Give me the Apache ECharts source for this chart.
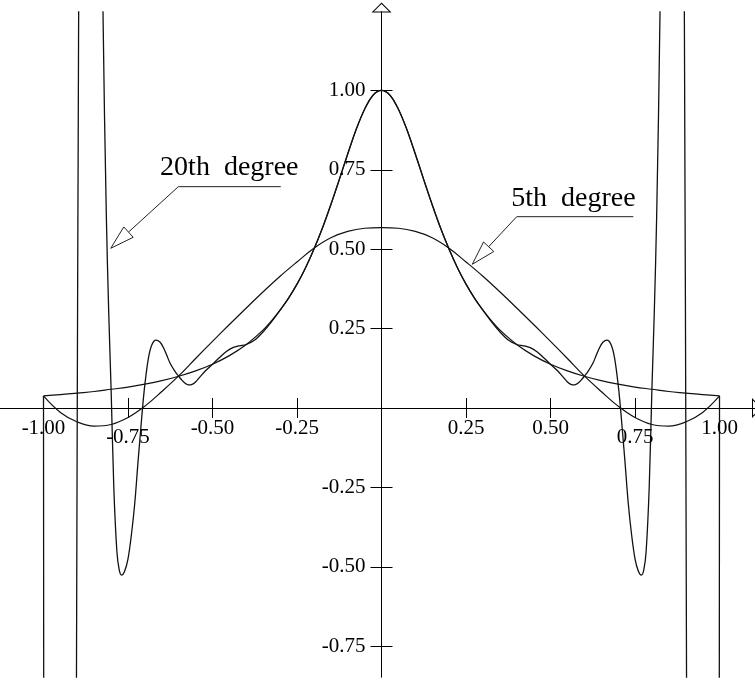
<!DOCTYPE html>
<html><head><meta charset="utf-8">
<script src="https://cdn.jsdelivr.net/npm/echarts@6/dist/echarts.min.js"></script>
<style>html,body{margin:0;padding:0;background:#fff}#c{width:755px;height:682px}</style>
</head><body><div id="c"></div>
<script>
// ---- tick values / labels ----
const xTickValues = [-1, -0.75, -0.5, -0.25, 0.25, 0.5, 0.75, 1];
const xLabelValues = [-1, -0.5, -0.25, 0.25, 0.5, 1];
const xLabelValuesLow = [-0.75, 0.75];
const yTickValues = [-0.75, -0.5, -0.25, 0.25, 0.5, 0.75, 1];

// ---- curves: [x, y] ----
const rungeFunction = [
  [-1,0.038],[-0.95,0.042],[-0.9,0.047],[-0.85,0.052],[-0.8,0.059],[-0.75,0.066],[-0.7,0.075],
  [-0.65,0.086],[-0.6,0.1],[-0.55,0.117],[-0.5,0.138],[-0.45,0.165],[-0.4,0.2],[-0.35,0.246],
  [-0.325,0.275],[-0.3,0.308],[-0.275,0.346],[-0.25,0.39],[-0.225,0.441],[-0.2,0.5],[-0.175,0.566],
  [-0.15,0.64],[-0.125,0.719],[-0.1,0.8],[-0.075,0.877],[-0.05,0.941],[-0.025,0.985],[0,1],
  [0.025,0.985],[0.05,0.941],[0.075,0.877],[0.1,0.8],[0.125,0.719],[0.15,0.64],[0.175,0.566],
  [0.2,0.5],[0.225,0.441],[0.25,0.39],[0.275,0.346],[0.3,0.308],[0.325,0.275],[0.35,0.246],
  [0.4,0.2],[0.45,0.165],[0.5,0.138],[0.55,0.117],[0.6,0.1],[0.65,0.086],[0.7,0.075],[0.75,0.066],
  [0.8,0.059],[0.85,0.052],[0.9,0.047],[0.95,0.042],[1,0.038]
];
const degree5 = [
  [-1,0.038],[-0.95,-0.014],[-0.9,-0.044],[-0.85,-0.057],[-0.8,-0.052],[-0.75,-0.03],[-0.7,0.006],
  [-0.65,0.052],[-0.6,0.101],[-0.55,0.156],[-0.5,0.21],[-0.45,0.263],[-0.4,0.315],[-0.35,0.366],
  [-0.3,0.415],[-0.25,0.46],[-0.2,0.503],[-0.15,0.536],[-0.1,0.556],[-0.05,0.566],[0,0.568],
  [0.05,0.566],[0.1,0.556],[0.15,0.536],[0.2,0.503],[0.25,0.46],[0.3,0.415],[0.35,0.366],[0.4,0.315],
  [0.45,0.263],[0.5,0.21],[0.55,0.156],[0.6,0.101],[0.65,0.052],[0.7,0.006],[0.75,-0.03],[0.8,-0.052],
  [0.85,-0.057],[0.9,-0.044],[0.95,-0.014],[1,0.038]
];
const degree20 = [
  [-1,0.038],[-0.995,-8],[-0.985,-35],[-0.975,-55],[-0.96,-58],[-0.945,-45],[-0.93,-22],[-0.915,-6],
  [-0.9,0.047],[-0.8975,0.8],[-0.895,1.5],[-0.885,3.5],[-0.87,4.8],[-0.855,4.9],[-0.84,3.8],[-0.83,2.2],
  [-0.824,1.25],[-0.814,0.6],[-0.807,0.3],[-0.8,0.059],[-0.792,-0.25],[-0.783,-0.45],[-0.776,-0.51],
  [-0.769,-0.526],[-0.76,-0.514],[-0.75,-0.475],[-0.74,-0.4],[-0.73,-0.3],[-0.72,-0.165],[-0.707,0],
  [-0.7,0.075],[-0.69,0.155],[-0.68,0.198],[-0.667,0.214],[-0.655,0.207],[-0.645,0.19],[-0.635,0.165],
  [-0.625,0.14],[-0.612,0.117],[-0.6,0.1],[-0.59,0.087],[-0.58,0.077],[-0.572,0.073],[-0.562,0.074],
  [-0.55,0.082],[-0.537,0.098],[-0.52,0.118],[-0.5,0.138],[-0.48,0.158],[-0.46,0.177],[-0.44,0.19],
  [-0.42,0.196],[-0.4,0.2],[-0.375,0.214],[-0.35,0.24],[-0.325,0.272],[-0.3,0.308],[-0.275,0.346],
  [-0.25,0.39],[-0.225,0.441],[-0.2,0.5],[-0.175,0.566],[-0.15,0.64],[-0.125,0.719],[-0.1,0.8],
  [-0.075,0.877],[-0.05,0.941],[-0.025,0.985],[0,1],
  [0.025,0.985],[0.05,0.941],[0.075,0.877],[0.1,0.8],[0.125,0.719],[0.15,0.64],[0.175,0.566],[0.2,0.5],
  [0.225,0.441],[0.25,0.39],[0.275,0.346],[0.3,0.308],[0.325,0.272],[0.35,0.24],[0.375,0.214],[0.4,0.2],
  [0.42,0.196],[0.44,0.19],[0.46,0.177],[0.48,0.158],[0.5,0.138],[0.52,0.118],[0.537,0.098],[0.55,0.082],
  [0.562,0.074],[0.572,0.073],[0.58,0.077],[0.59,0.087],[0.6,0.1],[0.612,0.117],[0.625,0.14],[0.635,0.165],
  [0.645,0.19],[0.655,0.207],[0.667,0.214],[0.68,0.198],[0.69,0.155],[0.7,0.075],[0.707,0],[0.72,-0.165],
  [0.73,-0.3],[0.74,-0.4],[0.75,-0.475],[0.76,-0.514],[0.769,-0.526],[0.776,-0.51],[0.783,-0.45],
  [0.792,-0.25],[0.8,0.059],[0.807,0.3],[0.814,0.6],[0.824,1.25],[0.83,2.2],[0.84,3.8],[0.855,4.9],
  [0.87,4.8],[0.885,3.5],[0.895,1.5],[0.8975,0.8],[0.9,0.047],[0.915,-6],[0.93,-22],[0.945,-45],
  [0.96,-58],[0.975,-55],[0.985,-35],[0.995,-8],[1,0.038]
];

// ---- annotations (data coordinates) ----
const annotationTexts = ['20th  degree', '5th  degree'];
const annotationTextAt = [[-0.655, 0.728], [0.384, 0.629]];
const annotationUnderline = [[[-0.298, 0.697], [-0.601, 0.697]], [[0.745, 0.6025], [0.400, 0.6025]]];
const annotationTip = [[-0.801, 0.503], [0.2686, 0.4526]];

// ---- layout ----
const X_MIN = -1.1287, X_MAX = 1.105;
const Y_MIN = -0.847, Y_MAX = 1.247;
const FONT = 'Liberation Serif';
const INK = '#111';
const ARROW = 'path://M10,0L20,10L0,10Z M10,1.414L2.414,9L17.586,9Z';
const fmt = v => Number(v).toFixed(2);
const lineStyle = {color: '#000', width: 1};

// tick-label list: [value, kind]  kind 0 = x label, 1 = x label (lower row), 2 = y label
const tickLabelData = []
  .concat(xLabelValues.map(v => [v, 0]))
  .concat(xLabelValuesLow.map(v => [v, 1]))
  .concat(yTickValues.map(v => [v, 2]));

const chart = echarts.init(document.getElementById('c'), null, {renderer: 'canvas'});
chart.setOption({
  animation: false,
  backgroundColor: '#fff',
  grid: {left: 0, right: 0, top: 12, bottom: 5, containLabel: false, outerBoundsMode: 'none'},
  xAxis: [
    {type: 'value', min: X_MIN, max: X_MAX, position: 'bottom', splitLine: {show: false},
      axisLine: {show: true, onZero: true, onZeroAxisIndex: 0, lineStyle,
        symbol: ['none', ARROW], symbolSize: [20, 10], symbolOffset: [0, 2]},
      axisTick: {show: true, customValues: xTickValues, length: 10, lineStyle},
      axisLabel: {show: false}},
    {type: 'value', min: X_MIN, max: X_MAX, position: 'top', splitLine: {show: false},
      axisLine: {show: true, onZero: true, onZeroAxisIndex: 0, lineStyle},
      axisTick: {show: true, customValues: xTickValues, length: 10, lineStyle},
      axisLabel: {show: false}}
  ],
  yAxis: [
    {type: 'value', min: Y_MIN, max: Y_MAX, position: 'left', splitLine: {show: false},
      axisLine: {show: true, onZero: true, onZeroAxisIndex: 0, lineStyle,
        symbol: ['none', ARROW], symbolSize: [20, 10], symbolOffset: [0, 4.5]},
      axisTick: {show: true, customValues: yTickValues, length: 11, lineStyle},
      axisLabel: {show: false}},
    {type: 'value', min: Y_MIN, max: Y_MAX, position: 'right', splitLine: {show: false},
      axisLine: {show: true, onZero: true, onZeroAxisIndex: 0, lineStyle},
      axisTick: {show: true, customValues: yTickValues, length: 11, lineStyle},
      axisLabel: {show: false}}
  ],
  series: [
    {name: 'f(x)', type: 'line', xAxisIndex: 0, yAxisIndex: 0, data: rungeFunction, smooth: 0.4,
      showSymbol: false, lineStyle: {color: INK, width: 1.2}, clip: true},
    {name: '5th degree', type: 'line', xAxisIndex: 0, yAxisIndex: 0, data: degree5, smooth: 0.4,
      showSymbol: false, lineStyle: {color: INK, width: 1.2}, clip: true},
    {name: '20th degree', type: 'line', xAxisIndex: 0, yAxisIndex: 0, data: degree20, smooth: 0.3,
      showSymbol: false, lineStyle: {color: INK, width: 1.3}, clip: true},
    // axis tick labels, placed through the axes' scales
    {type: 'custom', xAxisIndex: 0, yAxisIndex: 0, clip: false, silent: true, z: 5,
      data: tickLabelData,
      renderItem: function (params, api) {
        const v = api.value(0), kind = api.value(1);
        let x, y, align;
        if (kind === 2) {
          const p = api.coord([0, v]);
          x = p[0] - 16; y = p[1]; align = 'right';
        } else {
          const p = api.coord([v, 0]);
          x = p[0]; y = p[1] + (kind === 1 ? 29 : 20); align = 'center';
        }
        return {type: 'text', x: x, y: y,
          style: {text: fmt(v), font: '21px "Liberation Serif"', fill: '#000',
            align: align, verticalAlign: 'middle'}};
      }},
    // annotations with leader arrows
    {type: 'custom', xAxisIndex: 0, yAxisIndex: 0, clip: false, silent: true, z: 5,
      data: annotationTexts.map((t, i) => [i]),
      renderItem: function (params, api) {
        const i = params.dataIndex;
        const tip = api.coord(annotationTip[i]);
        const uEnd = api.coord(annotationUnderline[i][0]);
        const uStart = api.coord(annotationUnderline[i][1]);
        const tpos = api.coord(annotationTextAt[i]);
        let dx = uStart[0] - tip[0], dy = uStart[1] - tip[1];
        const len = Math.sqrt(dx * dx + dy * dy); dx /= len; dy /= len;
        const base = [tip[0] + dx * 24, tip[1] + dy * 24];
        const c1 = [base[0] - dy * 7, base[1] + dx * 7];
        const c2 = [base[0] + dy * 7, base[1] - dx * 7];
        return {type: 'group', children: [
          {type: 'polyline', shape: {points: [uEnd, uStart, base]},
            style: {stroke: '#222', lineWidth: 1, fill: null}},
          {type: 'polygon', shape: {points: [tip, c1, c2]},
            style: {stroke: '#222', lineWidth: 1, fill: '#fff'}},
          {type: 'text', x: tpos[0], y: tpos[1] - 9.5,
            style: {text: annotationTexts[i], font: '28px "Liberation Serif"', fill: '#000',
              align: 'left', verticalAlign: 'middle'}}
        ]};
      }}
  ]
});
</script></body></html>
